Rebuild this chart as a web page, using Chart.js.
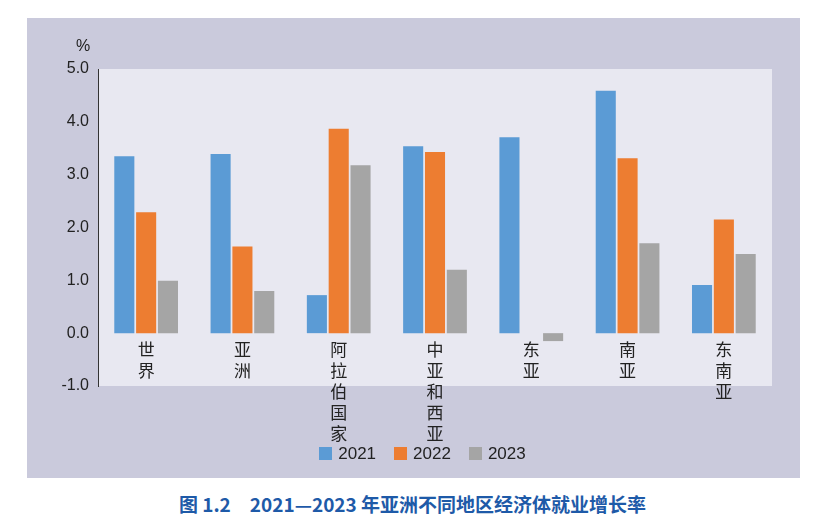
<!DOCTYPE html>
<html><head><meta charset="utf-8">
<script src="https://cdn.jsdelivr.net/npm/chart.js@4"></script>
<style>
body{margin:0;background:#fff;font-family:"Noto Sans CJK SC",sans-serif}
#box{position:absolute;left:27px;top:18px;width:773px;height:460px;background:#cacadc}
#legend{position:absolute;left:0;top:426px;width:773px;text-align:center;font-size:17px;color:#222;font-family:"Liberation Sans",sans-serif}
#legend span{display:inline-block;width:13px;height:13px;margin:0 6px 0 18px;vertical-align:-1px}
#title{position:absolute;left:0;top:490px;width:825px;text-align:center;font-size:19px;color:#1e5aa8;font-weight:bold}
</style></head><body>
<div id="box"><canvas id="chart" width="773" height="460"></canvas>
<div id="legend"><span style="background:#5b9bd5"></span>2021<span style="background:#ed7d31"></span>2022<span style="background:#a5a5a5"></span>2023</div></div>
<div id="title">图 1.2　2021—2023 年亚洲不同地区经济体就业增长率</div>
<script>
// 数据
const regions = ['世界','亚洲','阿拉伯国家','中亚和西亚','东亚','南亚','东南亚']
const y2021 = [3.35, 3.39, 0.72, 3.54, 3.71, 4.59, 0.91]
const y2022 = [2.29, 1.64, 3.87, 3.43, 0, 3.31, 2.15]
const y2023 = [0.99, 0.80, 3.18, 1.2, -0.15, 1.70, 1.50]
const yTicks = [-1, 0, 1, 2, 3, 4, 5]

// 背景和分类文字
const deco = {
  id:'deco',
  beforeDraw(c){
    const {ctx, chartArea:a} = c
    ctx.save()
    ctx.fillStyle = '#e8e8f1'
    ctx.fillRect(a.left, a.top, a.right-a.left, a.bottom-a.top)
    ctx.restore()
  },
  afterDraw(c){
    const {ctx, scales} = c
    const y0 = scales.y.getPixelForValue(0)
    ctx.save()
    ctx.fillStyle = '#222'
    ctx.font = '17px "Noto Sans CJK SC"'
    ctx.textAlign = 'center'
    ctx.textBaseline = 'top'
    regions.forEach((r,i)=>{
      const x = scales.x.getPixelForValue(i)
      ;[...r].forEach((ch,j)=> ctx.fillText(ch, x, y0+8+j*21))
    })
    ctx.font = '16px "Liberation Sans"'
    ctx.fillText('%', 56, 21)
    ctx.restore()
  }
}

new Chart(document.getElementById('chart'), {
  type:'bar',
  data:{
    labels: regions,
    datasets:[
      {label:'2021', data:y2021, backgroundColor:'#5b9bd5'},
      {label:'2022', data:y2022, backgroundColor:'#ed7d31'},
      {label:'2023', data:y2023, backgroundColor:'#a5a5a5'}
    ]
  },
  options:{
    responsive:false,
    animation:false,
    layout:{padding:{top:51, right:28, bottom:92, left:0}},
    plugins:{legend:{display:false}, tooltip:{enabled:false}},
    datasets:{bar:{categoryPercentage:0.68, barPercentage:0.92}},
    scales:{
      x:{grid:{display:false, drawTicks:false}, border:{display:false}, ticks:{display:false}},
      y:{
        min:-1, max:5,
        afterBuildTicks: s => { s.ticks = yTicks.map(v=>({value:v})) },
        afterFit: s => { s.width = 71 },
        grid:{display:false, drawOnChartArea:false, drawTicks:true, tickLength:5, color:'#333'},
        border:{display:true, color:'#333'},
        ticks:{color:'#222', font:{size:16, family:'Liberation Sans'}, callback:v=>v.toFixed(1), padding:4}
      }
    }
  },
  plugins:[deco]
})
</script>
</body></html>
